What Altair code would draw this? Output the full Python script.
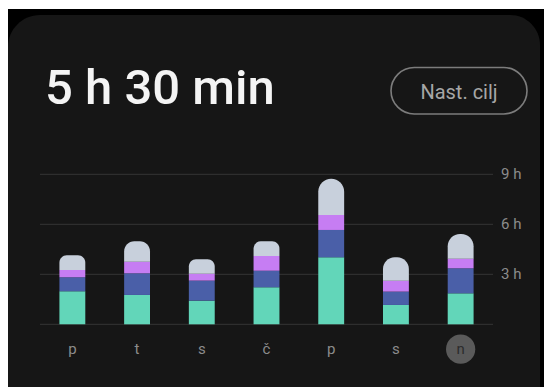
import altair as alt
import pandas as pd

# Weekly sleep summary: stacked sleep stages per day (hours)
days = ["pon", "tor", "sre", "čet", "pet", "sob", "ned"]
day_letters = ["p", "t", "s", "č", "p", "s", "n"]
today = "ned"

stages = ["deep", "light", "rem", "awake"]
deep = [1.98, 1.76, 1.42, 2.22, 4.02, 1.16, 1.86]
light = [0.84, 1.30, 1.20, 1.00, 1.64, 0.80, 1.50]
rem = [0.44, 0.70, 0.42, 0.88, 0.90, 0.66, 0.58]
awake = [0.88, 1.22, 0.86, 0.88, 2.18, 1.40, 1.48]
stage_colors = ["#62d6b9", "#4a5fa8", "#c67df3", "#c8d0dc"]

grid_hours = [0, 3, 6, 9]
grid_labels = ["", "3 h", "6 h", "9 h"]

total_label = "5 h 30 min"
goal_label = "Nast. cilj"

FONT = "Roboto"

# Build stacked segments (start/end in hours)
rows = []
for i, d in enumerate(days):
    base = 0.0
    for s, vals in zip(stages, [deep, light, rem, awake]):
        rows.append({"day": d, "stage": s, "start": base, "end": base + vals[i]})
        base += vals[i]
seg = pd.DataFrame(rows)

day_df = pd.DataFrame({"day": days, "letter": day_letters,
                       "today": [d == today for d in days]})
grid_df = pd.DataFrame({"hours": grid_hours, "label": grid_labels})
one = pd.DataFrame({"k": [0]})

x_scale = alt.Scale(domain=days, range=[40, 493], paddingInner=0.6, paddingOuter=0.3)
y_scale = alt.Scale(domain=[0, 9], range=[324.3, 174.3], nice=False, zero=False)
color_scale = alt.Scale(domain=stages, range=stage_colors)

# Frame and card background
frame = alt.Chart(one).mark_rect(color="#000000").encode(
    x=alt.value(8), x2=alt.value(544), y=alt.value(9), y2=alt.value(387))
card = alt.Chart(one).mark_rect(
    color="#161616", cornerRadiusTopLeft=32, cornerRadiusTopRight=30
).encode(x=alt.value(8), x2=alt.value(540), y=alt.value(15), y2=alt.value(387))

title = alt.Chart(one).mark_text(
    text=total_label, font=FONT, fontSize=49, fontWeight=500, color="#f4f4f4",
    align="left", baseline="alphabetic"
).encode(x=alt.value(45), y=alt.value(104))

pill = alt.Chart(one).mark_rect(
    fill="transparent", stroke="#7c7c7c", strokeWidth=1.6, cornerRadius=23.5
).encode(x=alt.value(391), x2=alt.value(527), y=alt.value(67.5), y2=alt.value(114))
pill_text = alt.Chart(one).mark_text(
    text=goal_label, font=FONT, fontSize=20, color="#a6a6a6",
    align="center", baseline="alphabetic"
).encode(x=alt.value(459), y=alt.value(98.5))

# Gridlines and hour labels
grid = alt.Chart(grid_df).mark_rule(color="#353535", strokeWidth=1).encode(
    y=alt.Y("hours:Q", scale=y_scale, axis=None),
    x=alt.value(40), x2=alt.value(493))
grid_text = alt.Chart(grid_df).mark_text(
    font=FONT, fontSize=15, color="#8c8c8c", align="left", baseline="middle"
).encode(y=alt.Y("hours:Q", scale=y_scale, axis=None),
         x=alt.value(501), text="label:N")

# Bars: lower stages square, top stage with rounded cap
lower = alt.Chart(seg).transform_filter(alt.datum.stage != "awake").mark_bar().encode(
    x=alt.X("day:N", scale=x_scale, sort=days, axis=None),
    y=alt.Y("start:Q", scale=y_scale, axis=None),
    y2="end:Q",
    color=alt.Color("stage:N", scale=color_scale, legend=None))
top = alt.Chart(seg).transform_filter(alt.datum.stage == "awake").mark_bar(
    cornerRadiusTopLeft=13, cornerRadiusTopRight=13
).encode(
    x=alt.X("day:N", scale=x_scale, sort=days, axis=None),
    y=alt.Y("start:Q", scale=y_scale, axis=None),
    y2="end:Q",
    color=alt.Color("stage:N", scale=color_scale, legend=None))

# Day labels with highlight for today
today_dot = alt.Chart(day_df).transform_filter(alt.datum.today).mark_point(
    filled=True, shape="circle", size=855, color="#5a5a5a", opacity=1
).encode(x=alt.X("day:N", scale=x_scale, sort=days, axis=None), y=alt.value(349.2))
day_text = alt.Chart(day_df).mark_text(
    font=FONT, fontSize=15, align="center", baseline="alphabetic"
).encode(
    x=alt.X("day:N", scale=x_scale, sort=days, axis=None),
    y=alt.value(353.5),
    text="letter:N",
    color=alt.condition(alt.datum.today, alt.value("#2c2c2c"), alt.value("#8c8c8c")))

chart = alt.layer(
    frame, card, title, pill, pill_text, grid, grid_text, lower, top, today_dot, day_text
).resolve_scale(color="shared").properties(
    width=544, height=387, padding=0,
    autosize=alt.AutoSizeParams(type="none"), background="#ffffff"
).configure_view(strokeWidth=0)

chart.save("out.html", embed_options={"renderer": "svg", "actions": False})
